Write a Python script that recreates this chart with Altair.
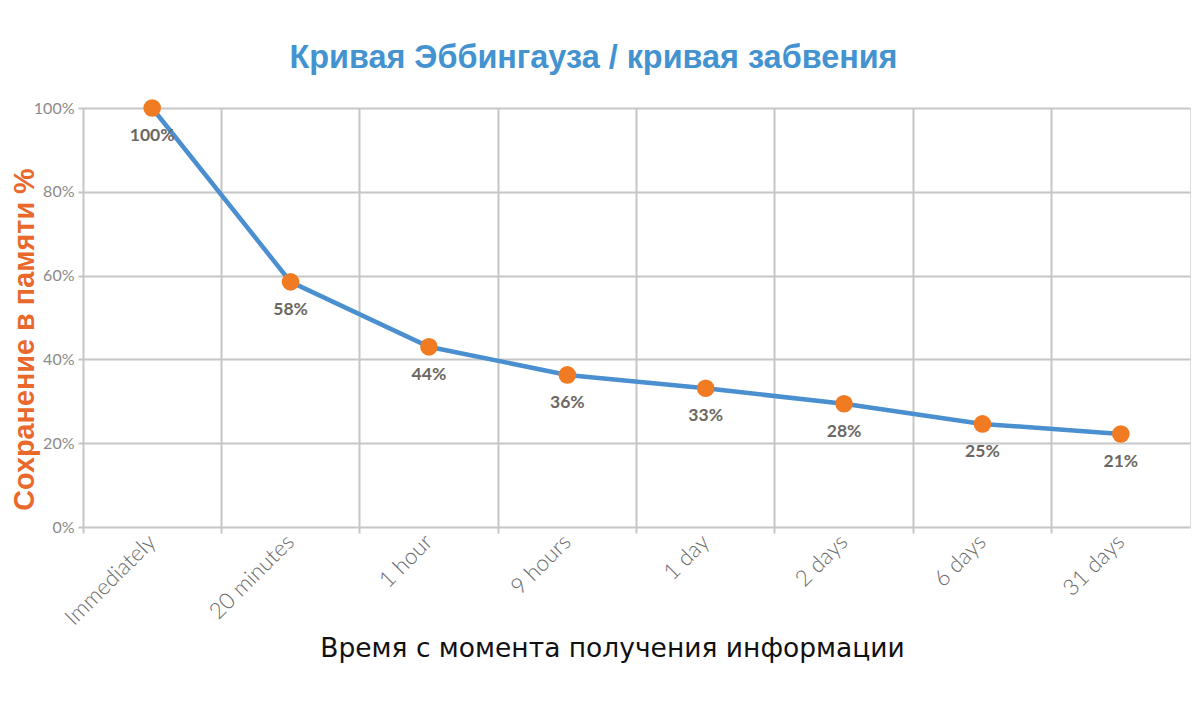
import altair as alt
import pandas as pd

categories = ["Immediately", "20 minutes", "1 hour", "9 hours", "1 day", "2 days", "6 days", "31 days"]
retention = [100, 58.5, 43, 36.3, 33.1, 29.4, 24.6, 22.2]
labels = ["100%", "58%", "44%", "36%", "33%", "28%", "25%", "21%"]
y_ticks = [0, 20, 40, 60, 80, 100]

df = pd.DataFrame({"time": categories, "retention": retention, "label": labels})

grid_color = "#c6c6c6"

x_enc = alt.X(
    "time:N",
    sort=categories,
    scale=alt.Scale(type="band", paddingInner=0, paddingOuter=0),
    axis=alt.Axis(
        title="Время с момента получения информации",
        titleFont="DejaVu Sans",
        titleFontSize=26.5,
        titleFontWeight="normal",
        titleColor="#111111",
        titleX=529,
        titleY=129,
        titleAlign="center",
        titleBaseline="alphabetic",
        labelAngle=-45,
        labelAlign="right",
        labelBaseline="middle",
        labelFont="Lato",
        labelFontSize=22.5,
        labelFontWeight=300,
        labelColor="#6a6a6a",
        labelPadding=5,
        bandPosition=0,
        grid=True,
        gridColor=grid_color,
        gridWidth=2,
        tickColor=grid_color,
        tickWidth=2,
        tickSize=6,
        domain=False,
    ),
)

y_enc = alt.Y(
    "retention:Q",
    scale=alt.Scale(domain=[0, 100], nice=False),
    axis=alt.Axis(
        title="Сохранение в памяти  %",
        titleFont="Liberation Sans",
        titleFontSize=28.8,
        titleFontWeight="bold",
        titleColor="#e8692b",
        titleX=-50,
        titleY=231,
        titleAngle=-90,
        titleAlign="center",
        titleBaseline="alphabetic",
        values=y_ticks,
        labelExpr="datum.value + '%'",
        labelFont="Lato",
        labelFontSize=16,
        labelFontWeight="normal",
        labelColor="#8a8a8a",
        labelPadding=4,
        grid=True,
        gridColor=grid_color,
        gridWidth=2,
        tickColor=grid_color,
        tickWidth=2,
        tickSize=5,
        domain=False,
    ),
)

base = alt.Chart(df).encode(x=x_enc, y=y_enc)

line = base.mark_line(color="#4a8fcf", strokeWidth=4.5)
points = base.mark_point(filled=True, color="#f07b22", size=310, opacity=1)
text = base.mark_text(
    dy=28, font="Lato", fontSize=17.5, fontWeight="bold", color="#6b6762"
).encode(text="label:N")

chart = (
    alt.layer(line, points, text)
    .properties(
        width=1107,
        height=419,
        autosize=alt.AutoSizeParams(type="none"),
        padding={"left": 75, "top": 100, "right": 2, "bottom": 170},
        title=alt.Title(
            "Кривая Эббингауза / кривая забвения",
            font="Liberation Sans",
            fontSize=32.4,
            fontWeight="bold",
            color="#4393d1",
            anchor="middle",
            frame="group",
            dx=-43,
            dy=39,
            offset=38,
            baseline="alphabetic",
        ),
    )
    .configure_view(stroke=grid_color, strokeWidth=2)
    .configure(background="white")
)

chart.save("out.html", embed_options={"renderer": "svg", "actions": False})
